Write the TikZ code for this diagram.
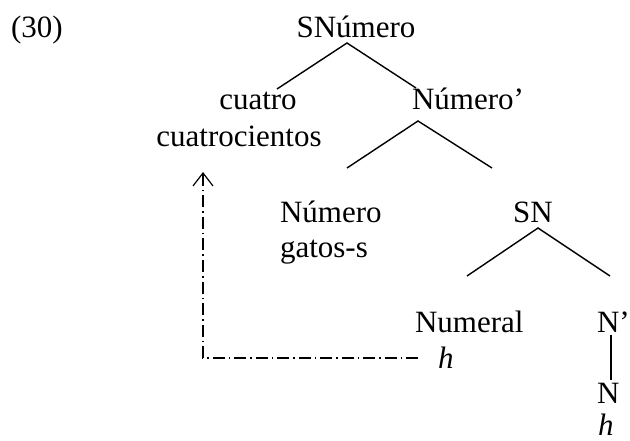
\documentclass[tikz,border=0pt]{standalone}
\usepackage{fontspec}
\setmainfont{Liberation Serif}
\usetikzlibrary{arrows.meta}
\begin{document}
\begin{tikzpicture}[x=1pt,y=1pt,
  lbl/.style={inner sep=0pt,outer sep=0pt,font=\fontsize{31}{36}\selectfont},
  branch/.style={line width=1.4pt},
  movearrow/.style={line width=1.2pt,dash pattern=on 12pt off 4pt on 1.5pt off 4pt,
    -{Straight Barb[length=13pt,width=20pt,line width=1.2pt]}}]
\useasboundingbox (0,0) rectangle (630,-441);
\node[lbl,anchor=base west] (ex) at (11,-38) {(30)};
\node[lbl,anchor=base] (snum) at (356,-38) {SNúmero};
\node[lbl,anchor=base] (cuatro) at (258,-110) {cuatro};
\node[lbl,anchor=base] (cuatroc) at (239,-147) {cuatrocientos};
\node[lbl,anchor=base west] (numbar) at (412,-110) {Número’};
\node[lbl,anchor=base west] (num) at (280,-223) {Número};
\node[lbl,anchor=base west] (gatos) at (280,-258) {gatos-s};
\node[lbl,anchor=base] (sn) at (533,-223) {SN};
\node[lbl,anchor=base west] (numeral) at (415,-332) {Numeral};
\node[lbl,anchor=base west] (h1) at (438,-368) {\itshape h};
\node[lbl,anchor=base west] (nbar) at (597,-332) {N’};
\node[lbl,anchor=base west] (n) at (597,-403) {N};
\node[lbl,anchor=base west] (h2) at (598,-435) {\itshape h};
% branch points
\coordinate (snumB) at (347,-43);
\coordinate (cuatroT) at (277,-89);
\coordinate (numbarT) at (416,-88);
\coordinate (numbarB) at (418,-121);
\coordinate (numT) at (347,-168);
\coordinate (snT) at (492,-168);
\coordinate (snB) at (538,-228);
\coordinate (numeralT) at (467,-276);
\coordinate (nbarT) at (610,-276);
\coordinate (nbarB) at (611,-335);
\coordinate (nT) at (611,-380);
\coordinate (moveStart) at (418,-358);
\coordinate (moveEnd) at (203,-172);
\draw[branch] (cuatroT) -- (snumB) -- (numbarT);
\draw[branch] (numT) -- (numbarB) -- (snT);
\draw[branch] (numeralT) -- (snB) -- (nbarT);
\draw[branch] (nbarB) -- (nT);
\draw[movearrow] (moveStart) -| (moveEnd);
\end{tikzpicture}
\end{document}
